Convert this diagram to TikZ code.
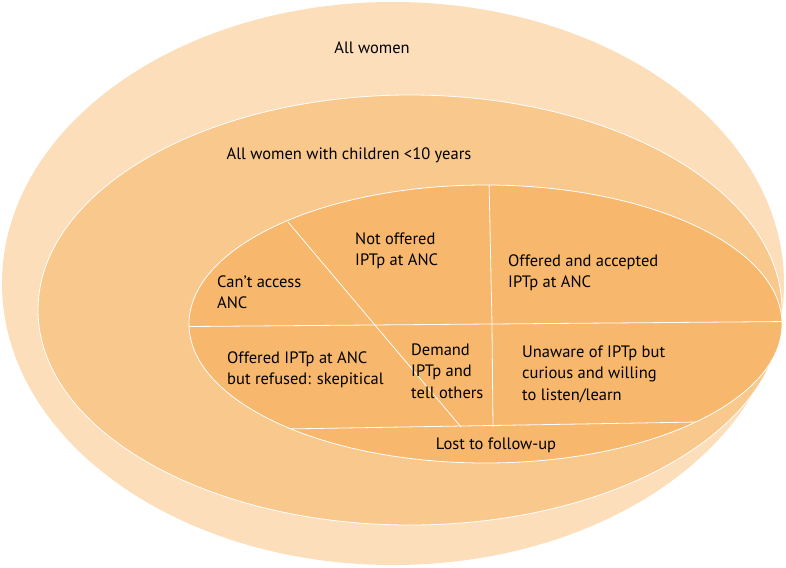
\documentclass[tikz,border=0pt]{standalone}
\usepackage{fontspec}
\setmainfont{PT Sans}
\begin{document}
\begin{tikzpicture}[x=1pt,y=-1pt]
        % Define colors
        \definecolor{outercolor}{RGB}{252,222,186}
        \definecolor{middlecolor}{RGB}{249,200,140}
        \definecolor{innercolor}{RGB}{247,183,108}
        \tikzset{lbl/.style={align=left,anchor=west,inner sep=0pt,font=\fontsize{16.5}{21.5}\selectfont}}
        \useasboundingbox (0,0) rectangle (786,567);

        % Draw ellipses
        \fill[outercolor] (393,283.5) ellipse (391 and 281.5);
        \filldraw[middlecolor,draw=white,line width=0.8pt] (410,310) ellipse (372 and 215);
        \filldraw[innercolor,draw=white,line width=0.8pt] (485.5,324) ellipse (296.5 and 139);

        % Draw dividing lines
        \begin{scope}
            \clip (485.5,324) ellipse (296.5 and 139);
            \draw[white,line width=0.8pt] (180,326.6) -- (790,321.5);
            \draw[white,line width=0.8pt] (489,180) -- (492,324);
            \draw[white,line width=0.8pt] (492,324) -- (493,427);
            \draw[white,line width=0.8pt] (288,222) -- (461,427);
            \draw[white,line width=0.8pt] (285,429) -- (710,421.8);
        \end{scope}

        % Labels
        \node (all) at (372,48) [inner sep=0pt,font=\fontsize{16.5}{21.5}\selectfont] {All women};
        \node (children) at (349,155) [inner sep=0pt,font=\fontsize{16.5}{21.5}\selectfont] {All women with children <10 years};
        \node (access) at (217,292) [lbl] {Can’t access\\ANC};
        \node (notoffered) at (355,251) [lbl] {Not offered\\IPTp at ANC};
        \node (accepted) at (508,273) [lbl] {Offered and accepted\\IPTp at ANC};
        \node (refused) at (227,370) [lbl] {Offered IPTp at ANC\\but refused: skepitical};
        \node (demand) at (411,371) [lbl] {Demand\\IPTp and\\tell others};
        \node (unaware) at (522,374) [lbl] {Unaware of IPTp but\\curious and willing\\to listen/learn};
        \node (lost) at (496,445) [inner sep=0pt,font=\fontsize{16.5}{21.5}\selectfont] {Lost to follow-up};
\end{tikzpicture}
\end{document}
